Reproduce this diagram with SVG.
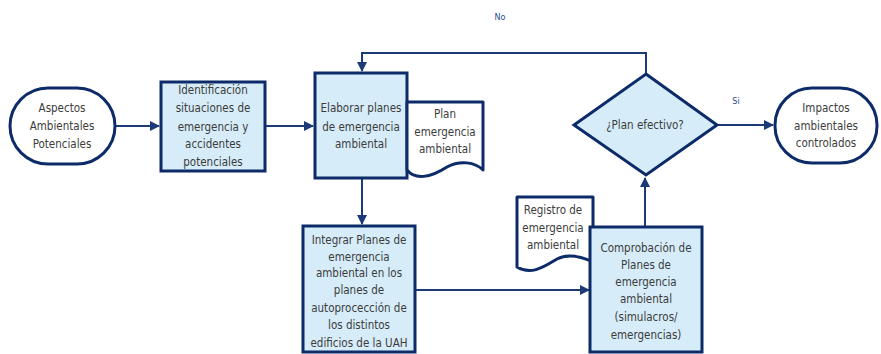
<svg xmlns="http://www.w3.org/2000/svg" width="881" height="354" viewBox="0 0 881 354">
<style>
.box{fill:#d6ecf8;stroke:#0d2b68;stroke-width:3}
.term{fill:#ffffff;stroke:#0d2b68;stroke-width:3}
.doc{fill:#ffffff;stroke:#0d2b68;stroke-width:3;stroke-linejoin:round}
.con{fill:none;stroke:#1d3a78;stroke-width:2}
text{font-family:"DejaVu Sans Condensed","DejaVu Sans","Liberation Sans",sans-serif;font-size:11.5px;fill:#3c3c3c;text-anchor:middle;dominant-baseline:central}
.lbl{font-size:9px;fill:#2b4a8c}
</style>
<defs>
<marker id="arr" viewBox="0 0 10 10" refX="9" refY="5" markerWidth="5" markerHeight="5" orient="auto" markerUnits="strokeWidth">
<path d="M0,0 L10,5 L0,10 Z" fill="#1d3a78"/>
</marker>
</defs>
<g id="connectors">
<line class="con" x1="115" y1="126" x2="159" y2="126" marker-end="url(#arr)"/>
<line class="con" x1="265" y1="126" x2="313" y2="126" marker-end="url(#arr)"/>
<polyline class="con" points="646,74 646,53 362,53 362,71" marker-end="url(#arr)"/>
<line class="con" x1="362" y1="178" x2="362" y2="224" marker-end="url(#arr)"/>
<line class="con" x1="415" y1="290" x2="589" y2="290" marker-end="url(#arr)"/>
<line class="con" x1="645" y1="227" x2="645" y2="178" marker-end="url(#arr)"/>
<line class="con" x1="717" y1="125" x2="773" y2="125" marker-end="url(#arr)"/>
<text class="lbl" x="500" y="17">No</text>
<text class="lbl" x="736" y="101">Si</text>
</g>
<g id="aspectos">
<rect class="term" x="10" y="88" width="105" height="76" rx="38" ry="38"/>
<text x="62" y="108">Aspectos</text>
<text x="62" y="126">Ambientales</text>
<text x="62" y="144">Potenciales</text>
</g>
<g id="identificacion">
<rect class="box" x="161" y="82" width="104" height="89"/>
<text x="213" y="90">Identificación</text>
<text x="213" y="108">situaciones de</text>
<text x="213" y="127">emergencia y</text>
<text x="213" y="144">accidentes</text>
<text x="213" y="162">potenciales</text>
</g>
<g id="elaborar">
<rect class="box" x="315" y="73" width="92" height="105"/>
<text x="361" y="108">Elaborar planes</text>
<text x="361" y="127">de emergencia</text>
<text x="361" y="144">ambiental</text>
</g>
<g id="plan-doc">
<path class="doc" d="M407,102 H483 V170 C475,162 460,160 447,167 C430,178 415,180 407,170 Z"/>
<text x="445" y="114">Plan</text>
<text x="445" y="132">emergencia</text>
<text x="445" y="149">ambiental</text>
</g>
<g id="integrar">
<rect class="box" x="303" y="226" width="112" height="126"/>
<text x="359" y="240">Integrar Planes de</text>
<text x="359" y="257">emergencia</text>
<text x="359" y="273">ambiental en los</text>
<text x="359" y="290">planes de</text>
<text x="359" y="308">autoprocección de</text>
<text x="359" y="325">los distintos</text>
<text x="359" y="343">edificios de la UAH</text>
</g>
<g id="registro-doc">
<path class="doc" d="M517,197 H593 V262 C580,256 567,254 557,259 C545,266 532,276 517,267 Z"/>
<text x="553" y="210">Registro de</text>
<text x="553" y="228">emergencia</text>
<text x="553" y="245">ambiental</text>
</g>
<g id="comprobacion">
<rect class="box" x="590" y="227" width="112" height="125"/>
<text x="646" y="248">Comprobación de</text>
<text x="646" y="265">Planes de</text>
<text x="646" y="282">emergencia</text>
<text x="646" y="299">ambiental</text>
<text x="646" y="317">(simulacros/</text>
<text x="646" y="335">emergencias)</text>
</g>
<g id="decision">
<polygon class="box" points="646,74 717,125 646,175 574,125"/>
<text x="645" y="125">¿Plan efectivo?</text>
</g>
<g id="impactos">
<rect class="term" x="775" y="88" width="102" height="75" rx="37" ry="37"/>
<text x="826" y="108">Impactos</text>
<text x="826" y="126">ambientales</text>
<text x="826" y="143">controlados</text>
</g>
</svg>
